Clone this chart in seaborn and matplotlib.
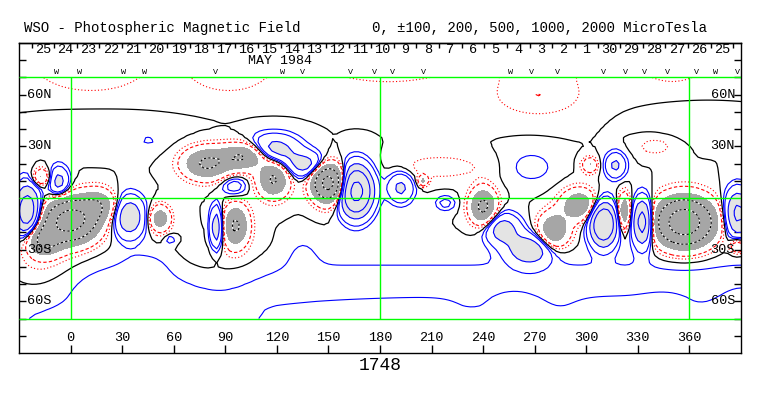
import numpy as np
import matplotlib
matplotlib.use("Agg")
import matplotlib.pyplot as plt
import seaborn as sns

# ============================
# WSO synoptic map, Carrington rotation 1748
# values
# ============================

# field sources: centre lon / lat (deg), peak field (microTesla), spread lon / lat (deg)
# -- large scale: polar fields, weak bands and patches
bg_lon = [180, 12, 92, 185, 272, 350,
          15, 46, 370, 340, 268, 215,
          180, 40, 85, -15, 45, 135,
          -25, 234, 285, 258, 345, 365, 390]
bg_lat = [85, 68, 68, 72, 58, 72,
          37, 33, 45, 30, 18, 18,
          -48, -72, -40, -40, -38, -32,
          -45, -64, -64, -58, -58, -63, -55]
bg_amp = [-130, -100, -100, -60, -180, -60,
          90, 70, 70, -160, 160, -180,
          150, 130, -120, -120, 80, 100,
          -100, 50, 50, -40, -30, 40, -40]
bg_wlon = [1000, 18, 14, 20, 18, 10,
           28, 5, 25, 8, 10, 18,
           1000, 80, 22, 18, 10, 7,
           15, 12, 12, 8, 10, 12, 8]
bg_wlat = [14, 6, 6, 5, 8, 5,
           7, 3, 7, 4, 7, 5,
           10, 10, 10, 10, 6, 8,
           10, 5, 5, 4, 4, 5, 5]

# -- active regions
ar_lon = [0, -16, 16, -25, -7, -17, 34, 52, 58,
          79, 101, 118, 95, 96, 85, 118, 138, 150, 166,
          192, 218, 205, 240, 251, 267, 281, 296, 302, 317,
          310, 322, 333, 357, 388, 388]
ar_lat = [-13, -24, -4, -8, 9, 12, -11, -12, -24,
          20, 24, 11, 7, -16, -17, 28, 19, 9, 4,
          6, -3, 10, -5, -18, -30, -19, -4, 19, 19,
          -15, -8, -14, -14, -9, -28]
ar_amp = [-2600, -1200, -800, 1600, 700, -600, 900, -800, 200,
          -1100, -1100, -1100, 350, -1100, 900, 750, 700, -2500, 2500,
          600, 280, -600, -1200, 750, 850, -950, -900, -550, 600,
          2000, -900, 1500, -2800, 1200, -600]
ar_wlon = [10, 7, 7, 5, 4, 3.5, 6, 4, 2.5,
           9, 9, 6, 5, 5, 2.5, 10, 9, 6, 6,
           5, 4, 2, 5, 7, 9, 6, 7, 3, 4,
           5, 2.5, 4, 11, 5, 3]
ar_wlat = [8, 6, 6, 10, 6, 3.5, 8, 5, 2,
           6, 5, 7, 4, 8, 8, 6, 5, 7, 9,
           6, 3, 2, 7, 6, 6, 7, 6, 3, 5,
           8, 7, 9, 9, 9, 3]

pos_levels = [100, 200, 500, 1000, 2000]

lon_ticks = [0, 30, 60, 90, 120, 150, 180, 210, 240, 270, 300, 330, 360]
lat_marks = [60, 30, -30, -60]
lat_names = ["60N", "30N", "30S", "60S"]

day_labels = ["25", "24", "23", "22", "21", "20", "19", "18", "17", "16", "15",
              "14", "13", "12", "11", "10", "9", "8", "7", "6", "5", "4", "3",
              "2", "1", "30", "29", "28", "27", "26", "25"]
day_start = -22.7   # lon of first day boundary
day_step = 13.17    # deg per day

obs_lon = [-8, 5, 31, 43, 84, 123, 135, 163, 177, 187, 205,
           256, 268, 283, 310, 323, 334, 347, 364, 375, 388]
obs_mark = ["W", "W", "W", "W", "V", "W", "V", "V", "V", "V", "V",
            "W", "V", "V", "V", "V", "V", "V", "V", "W", "V"]

# ============================
# build the field on a coarse grid (gives the jagged look)
# ============================
lon = np.arange(-30, 390.1, 2.5)
lat = np.arange(-70, 70.1, 2.5)
LON, LAT = np.meshgrid(lon, lat)
B = np.zeros_like(LON)
for l0, b0, a, wl, wb in zip(bg_lon + ar_lon, bg_lat + ar_lat, bg_amp + ar_amp,
                             bg_wlon + ar_wlon, bg_wlat + ar_wlat):
    B += a * np.exp(-0.5 * ((LON - l0) / wl) ** 2 - 0.5 * ((LAT - b0) / wb) ** 2)

# ============================
# style
# ============================
sns.set_theme(style="white")
plt.rcParams['font.family'] = ['Liberation Mono', 'DejaVu Sans Mono']
plt.rcParams['axes.edgecolor'] = 'black'
plt.rcParams['axes.linewidth'] = 1.0

fig = plt.figure(figsize=(7.63, 3.96), dpi=100)
ax = fig.add_axes([19 / 763, 43 / 396, 722 / 763, 310 / 396])
ax.set_xlim(-30, 390)
ax.set_ylim(-90, 90)

lw = 0.8

# shaded cores
ax.contourf(LON, LAT, B, levels=[-1e5, -500], colors=['#a6a6a6'], zorder=1)
ax.contourf(LON, LAT, B, levels=[500, 1e5], colors=['#e4e4e4'], zorder=1)

# negative contours
ax.contour(LON, LAT, B, levels=[-100], colors='red', linewidths=lw,
           linestyles=[(0, (1, 2))], zorder=2)
ax.contour(LON, LAT, B, levels=[-200], colors='red', linewidths=lw,
           linestyles=[(0, (3, 2))], zorder=2)
ax.contour(LON, LAT, B, levels=[-2000, -1000], colors='white', linewidths=lw, zorder=2)
ax.contour(LON, LAT, B, levels=[-2000, -1000], colors='black', linewidths=lw,
           linestyles=[(0, (2, 2))], zorder=2)
# zero line and positive contours
ax.contour(LON, LAT, B, levels=[0], colors='black', linewidths=lw + 0.1, zorder=2)
ax.contour(LON, LAT, B, levels=pos_levels, colors='blue', linewidths=lw, zorder=2)

# green reference lines
ax.hlines([-70, 0, 70], -30, 390, color='#00ff00', lw=1.0, zorder=3)
ax.vlines([0, 180, 360], -70, 70, color='#00ff00', lw=1.0, zorder=3)

# ticks
ax.set_xticks(lon_ticks)
ax.set_yticks(np.arange(-80, 81, 10))
ax.tick_params(axis='x', direction='in', length=6, width=1, color='black',
               bottom=True, top=False, labelbottom=False)
ax.tick_params(axis='y', direction='in', length=5, width=1, color='black',
               left=True, right=True, labelleft=False)
ax.grid(False)

day_edges = [day_start + i * day_step for i in range(len(day_labels) + 1)]
top = ax.secondary_xaxis('top')
top.set_xticks(day_edges)
top.tick_params(direction='in', length=3.5, width=1, color='black', labeltop=False)

fs = 9.7
for l in lon_ticks:
    ax.text(l, -81.4, str(l), ha='center', va='center', fontsize=fs, color='black')
for b, name in zip(lat_marks, lat_names):
    ax.text(-25.3, b, name, ha='left', va='center', fontsize=fs, color='black', zorder=4)
    ax.text(386.5, b, name, ha='right', va='center', fontsize=fs, color='black', zorder=4)
for i, d in enumerate(day_labels):
    ax.text(day_start + (i + 0.5) * day_step, 86.0, d, ha='center', va='center',
            fontsize=fs, color='black')
ax.text(122, 79.6, "MAY 1984", ha='center', va='center', fontsize=9.5, color='black')
for l, m in zip(obs_lon, obs_mark):
    ax.text(l, 72.6, m, ha='center', va='center', fontsize=6, color='black')

fig.text(24 / 763, 1 - 28 / 396, "WSO - Photospheric Magnetic Field",
         ha='left', va='center', fontsize=10.1, color='black')
fig.text(372 / 763, 1 - 28 / 396, "0, \u00b1100, 200, 500, 1000, 2000 MicroTesla",
         ha='left', va='center', fontsize=10.1, color='black')
fig.text(380 / 763, 1 - 366 / 396, "1748", ha='center', va='center',
         fontsize=13, color='black')

fig.savefig("out.png", dpi=100, facecolor='white')
